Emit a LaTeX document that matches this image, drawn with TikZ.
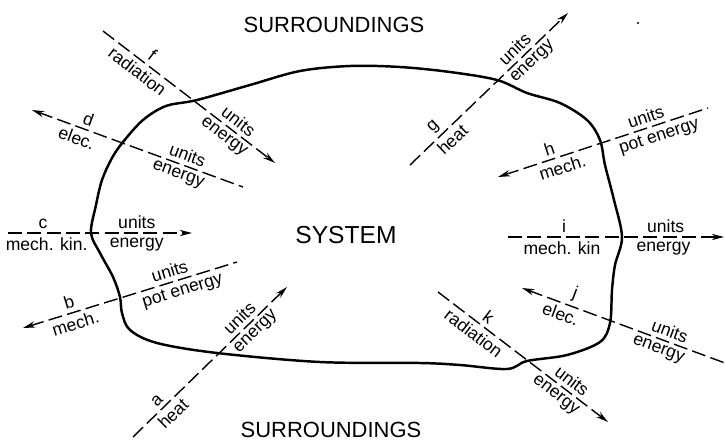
\documentclass[tikz,border=0pt]{standalone}
\usepackage{fontspec}
\setmainfont{Liberation Sans}
\usetikzlibrary{arrows.meta}

\begin{document}
\begin{tikzpicture}[x=0.02cm, y=-0.02cm, >={Stealth[length=7pt,width=3.6pt]},
  flow/.style={line width=0.8pt, dash pattern=on 8pt off 3pt},
  top/.style={sloped, above, inner sep=2.2pt, font=\fontsize{10}{10}\selectfont},
  bot/.style={sloped, below, inner sep=2.2pt, font=\fontsize{10}{10}\selectfont},
  big/.style={font=\fontsize{12.5}{13}\selectfont}]
  \useasboundingbox (0,0) rectangle (725,444);

  % system boundary
  \draw[line width=1.4pt] plot[smooth cycle, tension=0.55] coordinates {
    (197,100) (250,85) (300,71) (350,66) (400,67) (450,72) (497,80) (527,93)
    (560,103) (587,120) (600,140) (605,165) (614,200) (622,237) (615,265)
    (612,290) (610,323) (600,342) (567,355) (527,361) (507,369) (460,365)
    (420,363) (320,362) (217,353) (157,343) (130,330) (122,313) (120,297)
    (113,277) (100,253) (91,233) (96,205) (102,180) (112,158) (123,142)
    (143,120) (166,106)};

  \node[big] (sur1) at (334,25) {SURROUNDINGS};
  \node[big] (sur2) at (331,430) {SURROUNDINGS};
  \node[font=\fontsize{14}{14}\selectfont] (sys) at (346,235) {SYSTEM};
  \fill (638,23) circle (0.7pt);

  % end points of the flows
  \coordinate (a1) at (133,437); \coordinate (a2) at (287,287);
  \coordinate (b1) at (23,328);  \coordinate (b2) at (237,262);
  \coordinate (c1) at (8,233);   \coordinate (c2) at (192,233);
  \coordinate (d1) at (32,110);  \coordinate (d2) at (243,187);
  \coordinate (f1) at (103,31);  \coordinate (f2) at (275,163);
  \coordinate (g1) at (410,165); \coordinate (g2) at (568,13);
  \coordinate (h1) at (498,177); \coordinate (h2) at (708,108);
  \coordinate (i1) at (508,237); \coordinate (i2) at (724,237);
  \coordinate (j1) at (522,288); \coordinate (j2) at (725,363);
  \coordinate (k1) at (438,292); \coordinate (k2) at (608,422);

  \draw[flow,->] (a1) -- (a2)
    node[top,pos=0.20] (a-tag) {a} node[bot,pos=0.21] (a-kind) {heat}
    node[top,pos=0.74] (a-u) {units} node[bot,pos=0.75] (a-e) {energy};
  \draw[flow,<-] (b1) -- (b2)
    node[top,pos=0.23] (b-tag) {b} node[bot,pos=0.23] (b-kind) {mech.}
    node[top,pos=0.70] (b-u) {units} node[bot,pos=0.73] (b-e) {pot energy};
  \draw[flow,->] (c1) -- (c2)
    node[top,pos=0.19] (c-tag) {c} node[bot,pos=0.21] (c-kind) {mech. kin.}
    node[top,pos=0.70] (c-u) {units} node[bot,pos=0.70] (c-e) {energy};
  \draw[flow,<-] (d1) -- (d2)
    node[top,pos=0.25] (d-tag) {d} node[bot,pos=0.23] (d-kind) {elec.}
    node[top,pos=0.72] (d-u) {units} node[bot,pos=0.71] (d-e) {energy};
  \draw[flow,->] (f1) -- (f2)
    node[top,pos=0.25] (f-tag) {f} node[bot,pos=0.24] (f-kind) {radiation}
    node[top,pos=0.75] (f-u) {units} node[bot,pos=0.74] (f-e) {energy};
  \draw[flow,->] (g1) -- (g2)
    node[top,pos=0.20] (g-tag) {g} node[bot,pos=0.22] (g-kind) {heat}
    node[top,pos=0.71] (g-u) {units} node[bot,pos=0.73] (g-e) {energy};
  \draw[flow,<-] (h1) -- (h2)
    node[top,pos=0.26] (h-tag) {h} node[bot,pos=0.29] (h-kind) {mech.}
    node[top,pos=0.72] (h-u) {units} node[bot,pos=0.75] (h-e) {pot energy};
  \draw[flow,->] (i1) -- (i2)
    node[top,pos=0.26] (i-tag) {i} node[bot,pos=0.25] (i-kind) {mech. kin}
    node[top,pos=0.73] (i-u) {units} node[bot,pos=0.72] (i-e) {energy};
  \draw[flow,<-] (j1) -- (j2)
    node[top,pos=0.24] (j-tag) {j} node[bot,pos=0.21] (j-kind) {elec.}
    node[top,pos=0.71] (j-u) {units} node[bot,pos=0.69] (j-e) {energy};
  \draw[flow,->] (k1) -- (k2)
    node[top,pos=0.26] (k-tag) {k} node[bot,pos=0.25] (k-kind) {radiation}
    node[top,pos=0.75] (k-u) {units} node[bot,pos=0.73] (k-e) {energy};
\end{tikzpicture}
\end{document}
